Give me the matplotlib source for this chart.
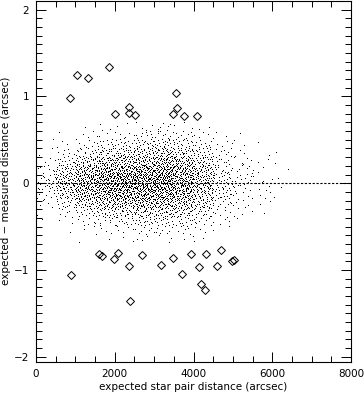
import numpy as np
import matplotlib
matplotlib.use("Agg")
import matplotlib.pyplot as plt
from matplotlib.ticker import MultipleLocator, FixedLocator

# ---- outliers (diamonds) ----
out_x = [863, 1041, 1321, 1854, 2006, 2362, 2362, 2514, 3556, 3581, 3479, 3759, 4089,
         1600, 1676, 1981, 2083, 2692, 2362, 889, 2388, 3480, 3937, 4318, 4699,
         3175, 4140, 4597, 4978, 5029, 3708, 4191, 4293]
out_y = [0.98, 1.25, 1.21, 1.34, 0.80, 0.88, 0.81, 0.79, 1.04, 0.87, 0.80, 0.77, 0.77,
         -0.81, -0.84, -0.87, -0.80, -0.83, -0.95, -1.06, -1.36, -0.86, -0.81, -0.81, -0.77,
         -0.94, -0.96, -0.95, -0.90, -0.89, -1.05, -1.16, -1.23]

# ---- main cloud: counts per cell ----
# x bins (arcsec, left edges, width 500), y bins (arcsec, centres, width 0.1)
x_bin_left = [0, 500, 1000, 1500, 2000, 2500, 3000, 3500, 4000, 4500, 5000, 5500, 6000]
y_bin_mid = [0.65, 0.55, 0.45, 0.35, 0.25, 0.15, 0.05,
             -0.05, -0.15, -0.25, -0.35, -0.45, -0.55, -0.65]
cell_counts = [
    # 0   500 1000 1500 2000 2500 3000 3500 4000 4500 5000 5500 6000
    [0,   0,   1,   2,   2,   4,   5,   3,   2,   0,   0,   0,   0],   # 0.65
    [0,   1,   3,   5,   6,   9,  11,   8,   5,   2,   1,   0,   0],   # 0.55
    [1,   3,   7,  11,  14,  18,  21,  16,  10,   4,   2,   1,   0],   # 0.45
    [2,   6,  14,  21,  25,  30,  33,  26,  17,   7,   3,   1,   1],   # 0.35
    [4,  14,  27,  36,  40,  45,  47,  39,  26,  10,   5,   2,   1],   # 0.25
    [8,  25,  43,  53,  57,  60,  61,  50,  34,  14,   6,   3,   1],   # 0.15
    [12, 34,  54,  64,  68,  69,  69,  57,  39,  16,   8,   4,   1],   # 0.05
    [12, 34,  54,  64,  68,  69,  67,  56,  39,  16,   8,   4,   1],   # -0.05
    [8,  25,  43,  53,  57,  60,  57,  49,  34,  14,   6,   3,   1],   # -0.15
    [4,  14,  27,  36,  40,  45,  42,  37,  25,  10,   5,   2,   0],   # -0.25
    [1,   6,  13,  20,  24,  29,  27,  24,  16,   6,   3,   1,   0],   # -0.35
    [1,   2,   6,  10,  12,  17,  16,  13,  10,   3,   1,   0,   0],   # -0.45
    [0,   1,   2,   4,   5,   8,   8,   6,   4,   1,   0,   0,   0],   # -0.55
    [0,   0,   1,   1,   2,   3,   3,   2,   2,   0,   0,   0,   0],   # -0.65
]

x_ticks = [0, 2000, 4000, 6000, 8000]
y_ticks = [-2, -1, 0, 1, 2]


def halton(i, base):
    f, r = 1.0, 0.0
    while i > 0:
        f /= base
        r += f * (i % base)
        i //= base
    return r


# spread each cell's count evenly over the cell (deterministic layout)
px, py = [], []
k = 1
for r, ym in enumerate(y_bin_mid):
    for c, xl in enumerate(x_bin_left):
        for _ in range(cell_counts[r][c]):
            px.append(xl + 500 * halton(k, 2))
            py.append(ym - 0.05 + 0.1 * halton(k, 3))
            k += 1

fig = plt.figure(figsize=(3.64, 3.97), dpi=100)
ax = fig.add_axes([36 / 364, 1 - 362 / 397, 315 / 364, 361.5 / 397])

ax.plot(px, py, ',', color='black')
ax.plot([0, 8000], [0, 0], color='black', lw=0.8, linestyle=(0, (2, 1.5)))
ax.plot(out_x, out_y, 'D', mfc='none', mec='black', ms=4.2, mew=0.7)

ax.set_xlim(0, 8000)
ax.set_ylim(-2.06, 2.105)
ax.xaxis.set_major_locator(FixedLocator(x_ticks))
ax.xaxis.set_minor_locator(MultipleLocator(500))
ax.yaxis.set_major_locator(FixedLocator(y_ticks))
ax.yaxis.set_minor_locator(MultipleLocator(0.1))
ax.tick_params(which='both', direction='in', top=True, right=True, width=0.7,
               labelsize=7.5, pad=5, color='black')
ax.tick_params(which='major', length=7)
ax.tick_params(which='minor', length=4)
ax.set_xticklabels([str(v) for v in x_ticks])
ax.set_yticklabels([str(v).replace('-', '\u2212') for v in y_ticks])
for s in ax.spines.values():
    s.set_linewidth(0.8)

ax.set_xlabel('expected star pair distance (arcsec)', fontsize=7.5, labelpad=2)
ax.set_ylabel('expected \u2212 measured distance (arcsec)', fontsize=7.5, labelpad=2)

fig.savefig('out.png', dpi=100)
